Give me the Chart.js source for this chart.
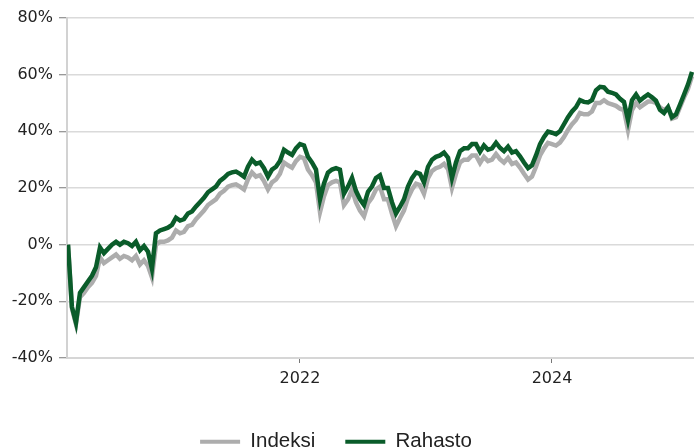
<!DOCTYPE html>
<html>
<head>
<meta charset="utf-8">
<script src="https://cdn.jsdelivr.net/npm/chart.js@4.4.1/dist/chart.umd.min.js"></script>
<style>
  html, body { margin: 0; padding: 0; background: #fff; overflow: hidden; }
  #wrap { width: 694px; height: 462px; position: relative; }
</style>
</head>
<body>
<div id="wrap"><canvas id="rahastoChart"></canvas></div>
<script>
// Kehitys aloituspäivästä (%), luettu kuvasta
const vuodet = [
  2020.159, 2020.190, 2020.222, 2020.254, 2020.286, 2020.317, 2020.349, 2020.381, 2020.413, 2020.444,
  2020.476, 2020.508, 2020.540, 2020.571, 2020.603, 2020.635, 2020.667, 2020.698, 2020.730, 2020.762,
  2020.794, 2020.825, 2020.857, 2020.889, 2020.921, 2020.952, 2020.984,
  2021.016, 2021.048, 2021.079, 2021.111, 2021.143, 2021.175, 2021.206, 2021.238, 2021.270, 2021.302,
  2021.333, 2021.365, 2021.397, 2021.429, 2021.460, 2021.492, 2021.524, 2021.556, 2021.587, 2021.619,
  2021.651, 2021.683, 2021.714, 2021.746, 2021.778, 2021.810, 2021.841, 2021.873, 2021.905, 2021.937,
  2021.968,
  2022.000, 2022.032, 2022.063, 2022.095, 2022.127, 2022.159, 2022.190, 2022.222, 2022.254, 2022.286,
  2022.317, 2022.349, 2022.381, 2022.413, 2022.444, 2022.476, 2022.508, 2022.540, 2022.571, 2022.603,
  2022.635, 2022.667, 2022.698, 2022.730, 2022.762, 2022.794, 2022.825, 2022.857, 2022.889, 2022.921,
  2022.952, 2022.984,
  2023.016, 2023.048, 2023.079, 2023.111, 2023.143, 2023.175, 2023.206, 2023.238, 2023.270, 2023.302,
  2023.333, 2023.365, 2023.397, 2023.429, 2023.460, 2023.492, 2023.524, 2023.556, 2023.587, 2023.619,
  2023.651, 2023.683, 2023.714, 2023.746, 2023.778, 2023.810, 2023.841, 2023.873, 2023.905, 2023.937,
  2023.968,
  2024.000, 2024.032, 2024.063, 2024.095, 2024.127, 2024.159, 2024.190, 2024.222, 2024.254, 2024.286,
  2024.317, 2024.349, 2024.381, 2024.413, 2024.444, 2024.476, 2024.508, 2024.540, 2024.571, 2024.603,
  2024.635, 2024.667, 2024.698, 2024.730, 2024.762, 2024.794, 2024.825, 2024.857, 2024.889, 2024.921,
  2024.952, 2024.984,
  2025.016, 2025.048, 2025.079, 2025.111
];

const rahasto = [
  0, -22, -27.5, -17, -15, -13, -11, -8, -1, -3, -1.5, 0, 1, 0, 1, 0.5, -0.5, 1, -2, -0.5,
  -2.5, -8.5, 4, 5, 5.5, 6, 7,
  9.5, 8.5, 9, 11, 11.7, 13.5, 15, 16.5, 18.5, 19.5, 20.5, 22.5, 23.6, 25, 25.5, 25.8, 25, 24, 27.5, 30,
  28.5, 29, 27, 24, 26.5, 27.5, 29.5, 33.5, 32.5, 31.7, 34,
  35.5, 35, 31, 29, 26.5, 16, 21.5, 25.4, 26.5, 27, 26.5, 18, 20.5, 23.6, 19, 16, 14, 18.7, 20.5, 23.5,
  24.5, 20, 20, 15, 11, 13.4, 16, 20.5, 23.5, 25.5, 25, 22,
  27.5, 30, 31, 31.5, 32.5, 30.7, 23.5, 29, 33, 34, 34, 35.5, 35.5, 32.8, 35, 33.5, 34, 36, 34.2, 33,
  34.6, 32.5, 33, 31.2, 29, 27, 28, 31.5, 35.5, 38, 39.9,
  39.5, 39, 40, 42.5, 45, 47, 48.5, 51, 50.4, 50.2, 51, 54.5, 55.7, 55.5, 54, 53.6, 53, 51.5, 50.4, 44,
  51, 53, 50.8, 52, 53, 52, 50.8, 47.6, 46.5, 48.5, 45, 46,
  49.4, 53, 56.5, 61
];

const indeksi = [
  0, -22.5, -28, -18.5, -17, -15, -13.5, -11, -4.5, -6.5, -5.5, -4.5, -3.5, -5, -4, -4.5, -5.5, -4, -7, -5.5,
  -7.5, -11.5, 0, 1, 1, 1.5, 2.5,
  5, 4, 4.5, 6.5, 7, 9, 10.5, 12, 14, 15, 16, 18, 19, 20.5, 21, 21.3, 20.5, 19.5, 23, 25.5,
  24, 24.5, 22.5, 19.5, 22, 23, 25, 29, 28, 27.2, 29.5,
  31, 30.5, 26.5, 24.5, 22, 11.5, 17, 21, 22, 22.5, 22, 14, 16, 19.5, 15, 12, 10, 14.7, 16.5, 19.5,
  20.5, 16, 16, 11, 6.5, 9.4, 12, 16.5, 19.5, 21.5, 21, 18,
  23.5, 26, 27, 27.5, 28.5, 26.7, 20, 25, 29, 30, 30, 31.5, 31.5, 28.8, 31, 29.5, 30, 32, 30.2, 29,
  30.6, 28.5, 29, 27.2, 25, 23, 24, 27.5, 31.5, 34, 35.9,
  35.5, 35, 36, 38, 40.5, 42.5, 44, 46.5, 46, 46, 47, 50, 50, 51, 50, 49.5, 49, 48, 47.5, 40.5,
  47.5, 50, 48.5, 49.5, 50.5, 50.5, 50, 48.5, 47.5, 48.5, 44.5, 45,
  48.5, 52, 55, 59.5
];

const xTicks = [2022, 2024];
const xTickLabels = ['2022', '2024'];
const yTicks = [-40, -20, 0, 20, 40, 60, 80];

const vihrea = '#0a5c2a';
const harmaa = '#adadad';
const akseliFontti = { family: '"DejaVu Sans", Verdana, sans-serif', size: 16 };

// selite hieman vasemmalle kuten alkuperäisessä
const siirraSelite = {
  id: 'siirraSelite',
  afterLayout(chart) {
    chart.legend.left -= 11;
    chart.legend.right -= 11;
  }
};

new Chart(document.getElementById('rahastoChart'), {
  type: 'line',
  data: {
    datasets: [
      {
        label: 'Indeksi',
        data: vuodet.map((v, i) => ({ x: v, y: indeksi[i] })),
        borderColor: harmaa,
        backgroundColor: harmaa,
        borderWidth: 4.5,
        pointRadius: 0,
        tension: 0,
        order: 2
      },
      {
        label: 'Rahasto',
        data: vuodet.map((v, i) => ({ x: v, y: rahasto[i] })),
        borderColor: vihrea,
        backgroundColor: vihrea,
        borderWidth: 4.5,
        pointRadius: 0,
        tension: 0,
        order: 1
      }
    ]
  },
  options: {
    responsive: true,
    maintainAspectRatio: false,
    animation: false,
    layout: { padding: { top: 18, right: 0, bottom: 0, left: 0 } },
    plugins: {
      tooltip: { enabled: false },
      legend: {
        position: 'bottom',
        labels: {
          boxWidth: 40,
          boxHeight: 4,
          padding: 30,
          color: '#222',
          font: { family: '"Liberation Sans", Arial, sans-serif', size: 20.5 },
          sort: (a, b) => a.datasetIndex - b.datasetIndex,
          generateLabels: (chart) =>
            Chart.defaults.plugins.legend.labels.generateLabels(chart).map(l => ({ ...l, lineWidth: 0 }))
        }
      }
    },
    scales: {
      x: {
        type: 'linear',
        min: 2020.151,
        max: 2025.127,
        afterBuildTicks: (s) => { s.ticks = xTicks.map(v => ({ value: v })); },
        afterFit: (s) => { s.height = 43.5; },
        grid: { drawOnChartArea: false, tickLength: 5, color: '#777', lineWidth: 1 },
        border: { color: '#d6d6d6', width: 2 },
        ticks: {
          padding: 6,
          maxRotation: 0,
          autoSkip: false,
          color: '#222',
          font: akseliFontti,
          callback: (v) => xTickLabels[xTicks.indexOf(v)] ?? ''
        }
      },
      y: {
        min: yTicks[0],
        max: yTicks[yTicks.length - 1],
        afterBuildTicks: (s) => { s.ticks = yTicks.map(v => ({ value: v })); },
        afterFit: (s) => { s.width = 67; },
        grid: { color: '#dadada', lineWidth: 1.5, tickLength: 8, tickColor: '#777', tickWidth: 1 },
        border: { color: '#d2d2d2', width: 2 },
        ticks: {
          padding: 6,
          color: '#222',
          font: akseliFontti,
          callback: (v) => v + '%'
        }
      }
    }
  },
  plugins: [siirraSelite]
});
</script>
</body>
</html>
